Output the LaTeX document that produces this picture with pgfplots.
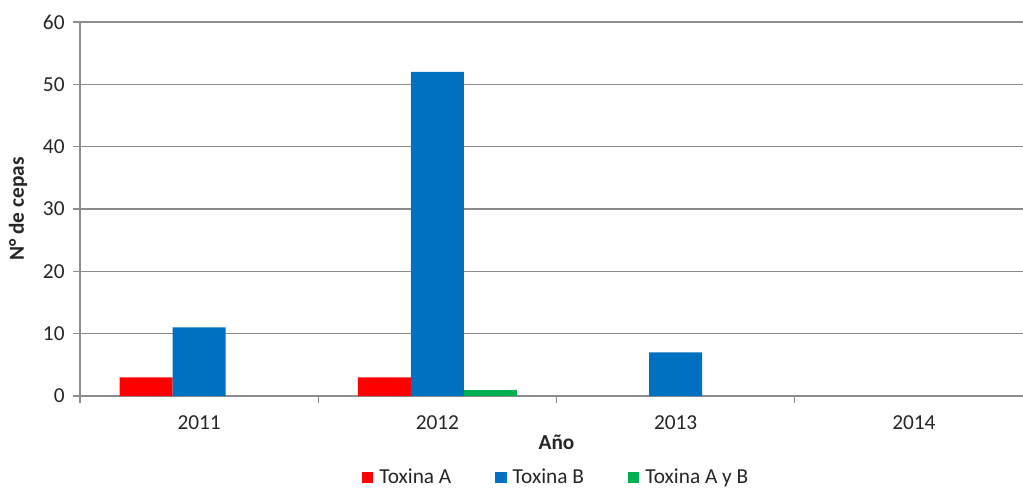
\documentclass[border=0pt]{standalone}
\usepackage{pgfplots}
\pgfplotsset{compat=1.18}
\usepackage{fontspec}
\setmainfont{Carlito}
\definecolor{toxA}{HTML}{FF0000}
\definecolor{toxB}{HTML}{0070C0}
\definecolor{toxAB}{HTML}{00B050}
\definecolor{gridgray}{HTML}{8C8C8C}
\definecolor{txt}{HTML}{262626}
\begin{document}
\begin{tikzpicture}
% page frame: 1023 x 487 units of 0.75pt
\useasboundingbox (0pt,0pt) rectangle (767.25pt,365.25pt);
\begin{axis}[
  at={(60pt,68.25pt)}, anchor=south west,
  scale only axis,
  width=714.75pt, height=280.5pt,
  xmin=-0.5, xmax=3.5,
  ymin=0, ymax=60,
  ytick={0,10,...,60},
  % tick marks between the years, year labels at the group centres
  xtick={-0.5,0.5,1.5,2.5,3.5},
  xticklabels={},
  extra x ticks={0,1,2,3},
  extra x tick labels={2011,2012,2013,2014},
  extra x tick style={major tick length=0pt, grid=none},
  tick style={gridgray, line width=0.8pt},
  major tick length=5pt,
  tick align=outside,
  axis x line*=bottom,
  axis y line*=left,
  axis line style={gridgray, line width=0.8pt, -},
  ymajorgrids,
  grid style={gridgray, line width=0.8pt},
  /pgf/number format/assume math mode=true,
  ticklabel style={font=\fontsize{16}{19}\selectfont, text=txt},
  xticklabel style={yshift=-11pt},
  yticklabel style={xshift=-3pt},
  xlabel={\textbf{Año}},
  xlabel style={font=\fontsize{16}{19}\selectfont, text=txt, at={(axis description cs:0.5,-0.123)}, anchor=center},
  ylabel={\textbf{N° de cepas}},
  ylabel style={font=\fontsize{16}{19}\selectfont, text=txt, at={(axis description cs:-0.065,0.5)}, anchor=center},
  legend columns=3,
  legend style={draw=none, at={(axis description cs:0.5,-0.217)}, anchor=center,
    font=\fontsize{16}{19}\selectfont, text=txt,
    /tikz/every odd column/.append style={column sep=2.5pt},
    /tikz/every even column/.append style={column sep=31pt}},
  legend image code/.code={\fill[#1] (0pt,-4.1pt) rectangle (8.5pt,4.1pt);},
  bar width=0.2225,
  clip=false,
]
\addplot[ybar, bar shift=-0.2225, fill=toxA, draw=none] coordinates {(0,3) (1,3)};
\addplot[ybar, bar shift=0, fill=toxB, draw=none] coordinates {(0,11) (1,52) (2,7)};
\addplot[ybar, bar shift=0.2225, fill=toxAB, draw=none] coordinates {(1,1)};
\legend{Toxina A, Toxina B, Toxina A y B}
\end{axis}
\end{tikzpicture}
\end{document}
